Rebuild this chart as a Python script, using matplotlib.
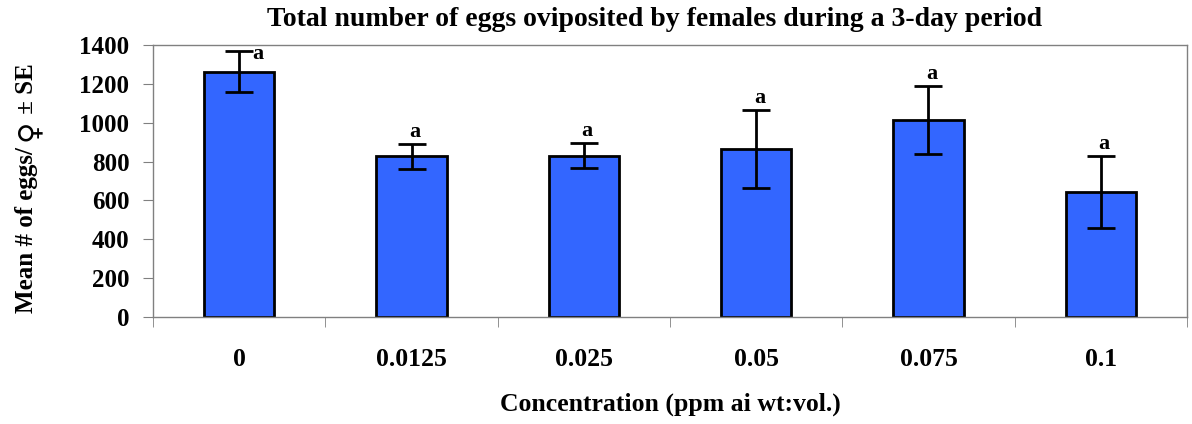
import matplotlib.pyplot as plt
import numpy as np

concentrations = ['0', '0.0125', '0.025', '0.05', '0.075', '0.1']
mean_eggs = [1262, 827, 830, 865, 1014, 643]
se_eggs = [106, 64, 64, 200, 176, 185]
letters = ['a', 'a', 'a', 'a', 'a', 'a']

plt.rcParams['font.family'] = ['Liberation Serif', 'DejaVu Sans']
plt.rcParams['font.weight'] = 'bold'

fig = plt.figure(figsize=(11.92, 4.24), dpi=100)
ax = fig.add_axes([153 / 1192, 1 - 317 / 424, (1187 - 153) / 1192, (317 - 45) / 424])

x = np.arange(len(concentrations))
ax.bar(x, mean_eggs, width=0.41, color='#3366ff', edgecolor='black', linewidth=2, zorder=2)
ax.errorbar(x, mean_eggs, yerr=se_eggs, fmt='none', ecolor='black',
            elinewidth=2, capsize=10, capthick=2, zorder=3)

# significance letters
for i, (m, s, lab) in enumerate(zip(mean_eggs, se_eggs, letters)):
    if i == 0:
        ax.text(i + 0.11, m + s - 12, lab, ha='center', va='center', fontsize=16, fontweight='bold')
    else:
        ax.text(i + 0.02, m + s + 62, lab, ha='center', va='center', fontsize=16, fontweight='bold')

ax.set_xlim(-0.5, len(concentrations) - 0.5)
ax.set_ylim(0, 1400)
ax.set_yticks(np.arange(0, 1401, 200))
ax.set_xticks(x)
ax.set_xticklabels(concentrations, fontsize=18.5, fontweight='bold')
ax.tick_params(axis='x', length=0, pad=22)
ax.set_xticks(np.arange(-0.5, len(concentrations)), minor=True)
ax.tick_params(axis='x', which='minor', length=7, color='#808080', direction='out')
ax.tick_params(axis='y', labelsize=18, length=7, color='#808080', direction='out', pad=10)
for lbl in ax.get_yticklabels():
    lbl.set_fontweight('bold')

for sp in ax.spines.values():
    sp.set_color('#808080')
    sp.set_linewidth(1)

fig.text(655 / 1192, 1 - 20 / 424,
         'Total number of eggs oviposited by females during a 3-day period',
         ha='center', va='center', fontsize=20, fontweight='bold')
ax.set_xlabel('Concentration (ppm ai wt:vol.)', fontsize=18.5, fontweight='bold', labelpad=16)

# y label in pieces so the female sign can use a plain sans glyph like the original
xb = 33 / 1192
t1 = fig.text(xb, 1 - 313 / 424, 'Mean # of eggs/', rotation=90, rotation_mode='anchor',
              ha='left', va='baseline', fontsize=18, fontweight='bold')
t2 = ax.annotate('\u2640', xy=(xb, 1), xycoords=('figure fraction', t1),
                 xytext=(3, 4), textcoords='offset points',
                 rotation=90, rotation_mode='anchor', ha='left', va='baseline',
                 fontsize=21, fontweight='normal', family=['DejaVu Sans'], annotation_clip=False)
t3 = ax.annotate(' \u00b1 SE', xy=(xb, 1), xycoords=('figure fraction', t2),
                 rotation=90, rotation_mode='anchor', ha='left', va='baseline',
                 fontsize=18, fontweight='bold', annotation_clip=False)

fig.savefig('out.png', dpi=100)
